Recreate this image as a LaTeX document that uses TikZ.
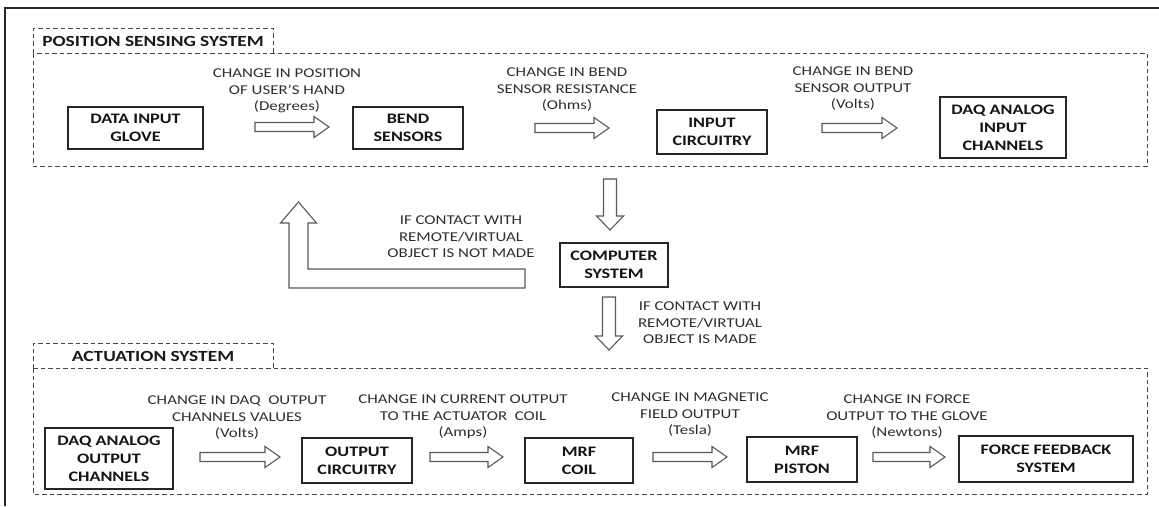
\documentclass[tikz,border=0pt]{standalone}
\usepackage{fontspec}
\setmainfont{Carlito}[FakeStretch=1.25]
\begin{document}
\tikzset{
  blk/.style={draw=black!85, line width=1.3pt, align=center, font=\fontsize{14.5}{18}\selectfont\bfseries, text=black!92, inner sep=0pt, anchor=center},
  lbl/.style={align=center, font=\fontsize{13.5}{16.5}\selectfont, text=black!82, inner sep=0pt},
  tabtxt/.style={font=\fontsize{15.5}{18}\selectfont\bfseries, text=black!90, inner sep=0pt},
  dsh/.style={draw=black!72, line width=1pt, dash pattern=on 4.5pt off 3pt},
  barrow/.style={draw=black!65, line width=1.1pt, fill=white, line join=miter},
  frame/.style={draw=black!85, line width=1.6pt}
}
\newcommand\myharrow[3]{\draw[barrow] (#1,#3-4.5) -- (#2-15,#3-4.5) -- (#2-15,#3-10.5) -- (#2,#3) -- (#2-15,#3+10.5) -- (#2-15,#3+4.5) -- (#1,#3+4.5) -- cycle;}
\newcommand\myvarrow[3]{\draw[barrow] (#1-6.5,#2) -- (#1+6.5,#2) -- (#1+6.5,#3-14) -- (#1+13.5,#3-14) -- (#1,#3) -- (#1-13.5,#3-14) -- (#1-6.5,#3-14) -- cycle;}
\begin{tikzpicture}[x=1pt,y=-1pt]
\useasboundingbox (0,0) rectangle (1159,506);
% outer frame
\draw[frame] (5,506) -- (5,8) -- (1159,8);

% position sensing system
\draw[dsh] (33,53) rectangle (1147,166);
\draw[dsh] (33,53) -- (33,28) -- (273,28) -- (273,53);
\node[tabtxt] (postab) at (153,41) {POSITION SENSING SYSTEM};

\node[blk, minimum width=135pt, minimum height=42pt] (glove) at (135.5,128) {DATA INPUT\\GLOVE};
\node[blk, minimum width=110pt, minimum height=42pt] (bend) at (408,128) {BEND\\SENSORS};
\node[blk, minimum width=110pt, minimum height=44pt] (incirc) at (712,132) {INPUT\\CIRCUITRY};
\node[blk, minimum width=126pt, minimum height=61pt] (daqin) at (1003,127.5) {DAQ ANALOG\\INPUT\\CHANNELS};

\node[lbl] (l1) at (287,91) {CHANGE IN POSITION\\OF USER'S HAND\\(Degrees)};
\node[lbl] (l2) at (567,90) {CHANGE IN BEND\\SENSOR RESISTANCE\\(Ohms)};
\node[lbl] (l3) at (853,89) {CHANGE IN BEND\\SENSOR OUTPUT\\(Volts)};

\myharrow{255}{329}{127}
\myharrow{535}{609}{128}
\myharrow{822}{897}{128}

% computer system
\myvarrow{610}{179}{230}
\node[blk, minimum width=108pt, minimum height=44pt] (comp) at (614,265) {COMPUTER\\SYSTEM};
\myvarrow{609}{297}{350}

\draw[barrow] (525,269) -- (308,269) -- (308,223) -- (316.5,223) -- (298.5,202) -- (280.5,223) -- (289,223) -- (289,288) -- (525,288) -- cycle;

\node[lbl] (notmade) at (461,237) {IF CONTACT WITH\\REMOTE/VIRTUAL\\OBJECT IS NOT MADE};
\node[lbl] (made) at (700,323) {IF CONTACT WITH\\REMOTE/VIRTUAL\\OBJECT IS MADE};

% actuation system
\draw[dsh] (33,368) rectangle (1147,494);
\draw[dsh] (33,368) -- (33,343) -- (273,343) -- (273,368);
\node[tabtxt] (acttab) at (153,356) {ACTUATION SYSTEM};

\node[blk, minimum width=128pt, minimum height=61pt] (daqout) at (109,458.5) {DAQ ANALOG\\OUTPUT\\CHANNELS};
\node[blk, minimum width=110pt, minimum height=45pt] (outcirc) at (357,460.5) {OUTPUT\\CIRCUITRY};
\node[blk, minimum width=108pt, minimum height=45pt] (coil) at (579,460.5) {MRF\\COIL};
\node[blk, minimum width=110pt, minimum height=45pt] (piston) at (802,459.5) {MRF\\PISTON};
\node[blk, minimum width=174pt, minimum height=46pt] (force) at (1046,459) {FORCE FEEDBACK\\SYSTEM};

\node[lbl] (l4) at (237,418) {CHANGE IN DAQ~ OUTPUT\\CHANNELS VALUES\\(Volts)};
\node[lbl] (l5) at (463,417) {CHANGE IN CURRENT OUTPUT\\TO THE ACTUATOR~ COIL\\(Amps)};
\node[lbl] (l6) at (690,415) {CHANGE IN MAGNETIC\\FIELD OUTPUT\\(Tesla)};
\node[lbl] (l7) at (907,417) {CHANGE IN FORCE\\OUTPUT TO THE GLOVE\\(Newtons)};

\myharrow{200}{280}{457}
\myharrow{430}{503}{457}
\myharrow{653}{727}{457}
\myharrow{873}{945}{457}
\end{tikzpicture}
\end{document}
